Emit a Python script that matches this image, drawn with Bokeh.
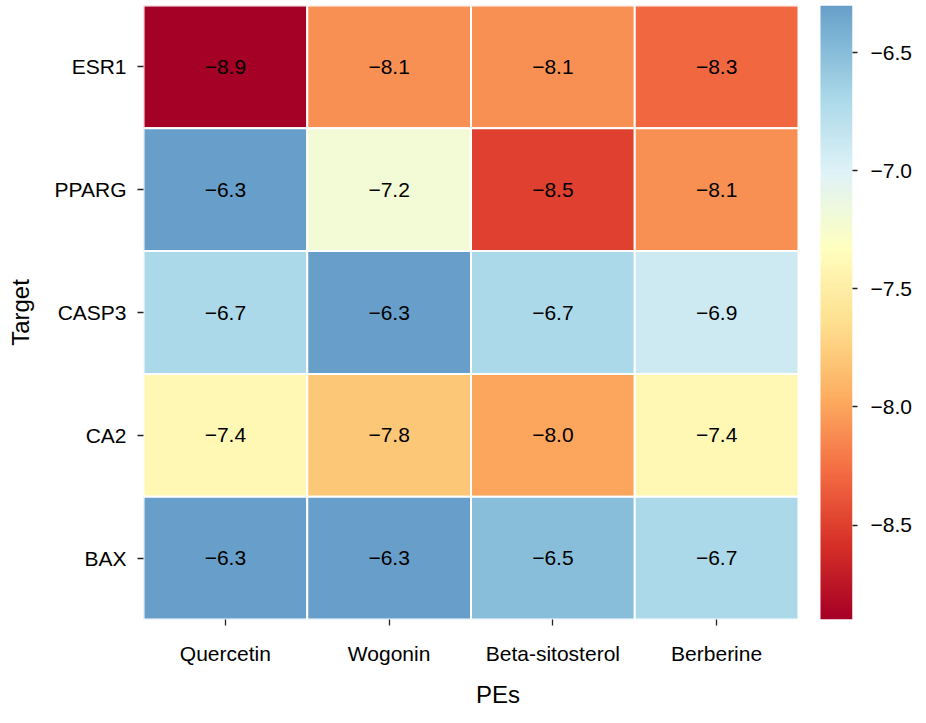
import numpy as np
from bokeh.plotting import figure
from bokeh.models import (Range1d, LinearAxis, FixedTicker, LinearColorMapper,
                          ColumnDataSource)
from bokeh.core.properties import value
from bokeh.embed import file_html
from bokeh.resources import INLINE

# ---------------- data ----------------
targets = ["ESR1", "PPARG", "CASP3", "CA2", "BAX"]
pes = ["Quercetin", "Wogonin", "Beta-sitosterol", "Berberine"]
esr1 = [-8.9, -8.1, -8.1, -8.3]
pparg = [-6.3, -7.2, -8.5, -8.1]
casp3 = [-6.7, -6.3, -6.7, -6.9]
ca2 = [-7.4, -7.8, -8.0, -7.4]
bax = [-6.3, -6.3, -6.5, -6.7]
cbar_ticks = [-8.5, -8.0, -7.5, -7.0, -6.5]
rows = [esr1, pparg, casp3, ca2, bax]

# ---------------- colormap (RdYlBu, centred like seaborn) ----------------
ANCHORS = ["#a50026", "#d73027", "#f46d43", "#fdae61", "#fee090", "#ffffbf",
           "#e0f3f8", "#abd9e9", "#74add1", "#4575b4", "#313695"]
anc = np.array([[int(h[i:i + 2], 16) for i in (1, 3, 5)] for h in ANCHORS], float)
allv = np.array(rows, float)
vmin, vmax = allv.min(), allv.max()
center = allv.mean()
vrange = max(vmax - center, center - vmin)


def cmap(v):
    t = 0.5 + 0.5 * (v - center) / vrange
    t = min(max(t, 0.0), 1.0)
    pos = t * (len(ANCHORS) - 1)
    i = min(int(pos), len(ANCHORS) - 2)
    f = pos - i
    rgb = anc[i] * (1 - f) + anc[i + 1] * f
    return "#%02x%02x%02x" % tuple(int(round(c)) for c in rgb)


FONT = "Liberation Sans"
xs, ys, cols, labels = [], [], [], []
for r, row in enumerate(rows):
    for c, v in enumerate(row):
        xs.append(c + 0.5)
        ys.append(len(targets) - 0.5 - r)
        cols.append(cmap(v))
        labels.append(f"{v:.1f}".replace("-", "\u2212"))
src = ColumnDataSource(dict(x=xs, y=ys, color=cols, label=labels))

heat_w = 655.0
frame_w = 709
unit = heat_w / len(pes)
x_end = frame_w / unit
cb_left = (820 - 143) / unit

p = figure(output_backend="svg", toolbar_location=None,
           frame_width=frame_w, frame_height=614,
           x_range=Range1d(0, x_end), y_range=Range1d(0, len(targets)),
           min_border_left=143, min_border_right=58,
           min_border_top=5, min_border_bottom=88)
p.outline_line_color = None
p.grid.visible = False
p.background_fill_color = "white"

p.rect(x="x", y="y", width=1, height=1, source=src, fill_color="color",
       line_color="white", line_width=2)
p.text(x="x", y="y", text="label", source=src, text_align="center",
       text_baseline="middle", text_font=value(FONT),
       text_font_size="21px", text_color="black")

# colour bar
p.extra_y_ranges = {"cb": Range1d(vmin, vmax)}
grad = np.linspace(vmin, vmax, 256)
palette = [cmap(v) for v in grad]
mapper = LinearColorMapper(palette=palette, low=vmin, high=vmax)
p.image(image=[grad.reshape(-1, 1)], x=cb_left, y=vmin, dw=x_end - cb_left,
        dh=vmax - vmin, color_mapper=mapper, y_range_name="cb")


def style_axis(ax, label_size="21px"):
    ax.axis_line_color = None
    ax.major_tick_out = 6
    ax.major_tick_in = 0
    ax.minor_tick_out = 0
    ax.minor_tick_in = 0
    ax.major_tick_line_color = "#222222"
    ax.major_tick_line_width = 1.3
    ax.major_label_text_font = FONT
    ax.major_label_text_font_size = label_size
    ax.major_label_text_color = "black"
    ax.axis_label_text_font = FONT
    ax.axis_label_text_font_size = "24px"
    ax.axis_label_text_font_style = "normal"
    ax.axis_label_text_color = "black"


xa = p.xaxis[0]
style_axis(xa)
xa.ticker = FixedTicker(ticks=[i + 0.5 for i in range(len(pes))])
xa.major_label_overrides = {i + 0.5: n for i, n in enumerate(pes)}
xa.major_label_standoff = 16
xa.axis_label = "PEs"
xa.axis_label_standoff = 13

ya = p.yaxis[0]
style_axis(ya)
ya.ticker = FixedTicker(ticks=[len(targets) - 0.5 - i for i in range(len(targets))])
ya.major_label_overrides = {len(targets) - 0.5 - i: n for i, n in enumerate(targets)}
ya.major_label_standoff = 11
ya.axis_label = "Target"
ya.axis_label_standoff = 18

ra = LinearAxis(y_range_name="cb", ticker=FixedTicker(ticks=cbar_ticks),
                major_label_overrides={t: f"{t:.1f}".replace("-", "\u2212") for t in cbar_ticks})
style_axis(ra, "21px")
ra.major_tick_out = 5
ra.major_label_standoff = 13
p.add_layout(ra, "right")

open("out.html", "w").write(file_html(p, INLINE))
